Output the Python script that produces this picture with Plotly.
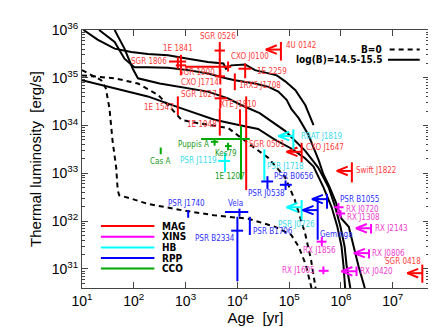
import numpy as np
import plotly.graph_objects as go

# cooling curves as log10(age / yr), log10(L / erg s^-1)
# log(B) = 14.5 - 15.5, four solid tracks
mag_a_age = [1.03, 1.30, 1.63, 1.95, 2.27, 2.66, 3.05, 3.43, 3.73, 3.78, 3.88, 4.15, 4.34, 4.60, 4.76, 4.93, 5.12, 5.31, 5.47]
mag_a_lum = [36.0, 35.80, 35.61, 35.54, 35.50, 35.47, 35.40, 35.33, 35.30, 35.19, 35.26, 35.28, 35.16, 35.09, 35.05, 34.92, 34.74, 34.43, 34.01]

mag_b_age = [1.33, 1.63, 1.82, 2.01, 2.27, 2.66, 3.05, 3.43, 3.78, 3.95, 4.34, 4.60, 4.79, 4.95, 5.04, 5.18,
             5.37, 5.57, 5.66, 5.78, 5.90, 6.01, 6.15, 6.24, 6.34, 6.46]
mag_b_lum = [36.0, 35.75, 35.40, 35.22, 35.22, 35.21, 35.16, 35.09, 34.99, 34.95, 34.88, 34.81, 34.71, 34.54, 34.35, 34.16,
             33.81, 33.27, 32.98, 32.71, 32.40, 32.05, 31.88, 31.47, 31.05, 30.60]

mag_c_age = [1.63, 1.82, 1.98, 2.08, 2.50, 2.92, 3.43, 3.82, 4.07, 4.43, 4.92, 5.31, 5.56, 5.76, 5.89, 5.99, 6.07, 6.11, 6.18]
mag_c_lum = [36.0, 35.61, 35.19, 34.99, 34.88, 34.81, 34.71, 34.57, 34.43, 34.26, 33.89, 33.47, 33.12, 32.71, 32.29, 31.88, 31.47, 31.05, 30.60]

mag_d_age = [1.0, 1.63, 2.27, 2.92, 3.56, 4.07, 4.40, 4.73, 5.04, 5.30, 5.47, 5.66, 5.82, 5.93, 6.01, 6.05, 6.08]
mag_d_lum = [34.95, 34.78, 34.61, 34.36, 34.12, 34.00, 33.93, 33.70, 33.52, 33.32, 33.14, 32.71, 32.29, 31.88, 31.47, 31.05, 30.60]

# B = 0, two dashed tracks
b0_e_age = [1.0, 1.37, 1.46, 1.53, 1.59, 1.66, 1.69, 1.72, 1.95, 2.27, 2.92, 3.56, 4.21, 4.73, 5.04, 5.18, 5.32, 5.43]
b0_e_lum = [35.16, 34.95, 34.78, 34.36, 33.68, 33.12, 32.64, 32.54, 32.47, 32.36, 32.23, 32.12, 32.05, 31.88, 31.71, 31.47, 31.09, 30.60]

b0_f_age = [1.0, 1.63, 2.08, 2.47, 2.72, 2.92, 3.24, 3.82, 4.27, 4.59, 4.92, 5.11, 5.31, 5.42, 5.51]
b0_f_lum = [35.05, 34.99, 34.88, 34.64, 34.36, 34.12, 34.05, 33.95, 33.58, 33.33, 32.92, 32.44, 31.73, 31.20, 30.60]

# sources (log10 values); upper limit on age -> arrow to the left
src_names = ['1E 1841', 'SGR 1806', 'SGR 0526', '4U 0142', 'CXO J0100', '1E 2259', 'SGR 1900', 'CXO J1714',
             '1RXS J1708', 'SGR 1627', '1E 1048', 'XTE J1810', 'SGR 0501', '1E 1547', 'CXO J1647', 'Swift J1822',
             'SGR 0418',
             'RX J0720', 'RX J1308', 'RX J2143', 'RX J1856', 'RX J0806', 'RX J1605', 'RX J0420',
             'RRAT J1819', 'PSR J1718', 'PSR J1119', 'PSR J0726',
             'PSR J1740', 'Vela', 'PSR B2334', 'PSR B1706', 'PSR J0538', 'PSR B0656', 'PSR B1055', 'Geminga',
             'Cas A', 'Puppis A', 'Kes79', '1E 1207']
src_class = ['MAG'] * 17 + ['XINS'] * 7 + ['HB'] * 4 + ['RPP'] * 8 + ['CCO'] * 4
src_age = [2.91, 2.85, 3.66, 4.84, 3.82, 4.15, 3.66, 3.67, 3.95, 3.67, 3.66, 4.05, 4.17, 2.85, 5.24, 6.21, 7.57,
           5.95, 5.99, 6.58, 5.63, 6.54, 5.66, 6.30,
           5.08, 4.52, 3.76, 5.24,
           3.05, 4.04, 4.00, 4.24, 4.58, 4.93, 5.73, 5.55,
           2.52, 3.56, 3.82, 4.07]
src_age_lo = [2.81, 2.68, 3.56, 4.84, 3.76, 4.02, 2.99, 3.57, 3.95, 3.56, 3.66, 4.05, 4.17, 2.85, 5.24, 6.21, 7.57,
              5.86, 5.90, 6.58, 5.53, 6.54, 5.57, 6.30,
              5.08, 4.52, 3.63, 5.24,
              3.05, 3.76, 3.88, 4.24, 4.46, 4.82, 5.73, 5.55,
              2.52, 3.49, 3.76, 3.30]
src_age_hi = [3.01, 3.01, 3.76, 4.84, 3.88, 4.27, 3.82, 3.76, 3.95, 3.80, 3.66, 4.05, 4.17, 2.85, 5.24, 6.21, 7.57,
              6.05, 6.08, 6.58, 5.72, 6.54, 5.76, 6.30,
              5.08, 4.52, 3.86, 5.24,
              3.05, 4.21, 4.11, 4.24, 4.69, 5.05, 5.73, 5.55,
              2.52, 3.63, 3.89, 4.24]
src_lum = [35.26, 35.34, 35.57, 35.59, 35.23, 35.19, 35.23, 35.03, 34.88, 34.57, 34.03, 34.16, 33.62, 34.41, 33.45, 33.05, 30.91,
           32.29, 32.16, 31.85, 31.57, 31.33, 30.96, 30.95,
           33.78, 33.18, 33.26, 32.29,
           32.15, 32.19, 31.80, 31.92, 32.83, 32.76, 32.46, 32.23,
           33.47, 33.66, 33.57, 33.72]
src_lum_lo = [35.05, 35.19, 35.36, 35.36, 35.13, 34.99, 35.05, 34.86, 34.74, 34.36, 33.79, 33.99, 32.65, 34.22, 33.23, 32.81, 30.71,
              32.19, 32.07, 31.74, 31.47, 31.22, 30.89, 30.85,
              33.50, 32.85, 33.02, 32.03,
              32.07, 32.09, 30.74, 31.71, 32.67, 32.65, 32.26, 31.61,
              33.40, 33.58, 33.48, 32.87]
src_lum_hi = [35.48, 35.44, 35.75, 35.75, 35.34, 35.30, 35.40, 35.19, 35.09, 34.78, 34.36, 34.34, 34.61, 34.61, 33.64, 33.23, 31.09,
              32.38, 32.23, 31.94, 31.67, 31.41, 31.05, 31.05,
              33.92, 33.50, 33.43, 32.44,
              32.23, 32.26, 32.09, 32.09, 32.94, 32.85, 32.57, 32.50,
              33.54, 33.74, 33.64, 33.99]
src_upper = [0, 0, 0, 1, 0, 0, 0, 0, 0, 0, 0, 0, 0, 0, 1, 1, 1,
             0, 0, 1, 0, 1, 0, 1,
             1, 0, 0, 1,
             0, 0, 0, 0, 0, 0, 1, 1,
             0, 0, 0, 0]

classes = ['MAG', 'XINS', 'HB', 'RPP', 'CCO']
line_colors = {'MAG': '#ff0000', 'XINS': '#ff00ff', 'HB': '#00ffff', 'RPP': '#0000ff', 'CCO': '#00a800'}
text_colors = {'MAG': '#ff3b3b', 'XINS': '#f040d0', 'HB': '#3cdcec', 'RPP': '#3030ff', 'CCO': '#229a22'}

# label placement: anchor, x shift, y shift (px)
label_pos = {
    '1E 1841': ('center', -3, 17), 'SGR 1806': ('right', -10, 0), 'SGR 0526': ('center', -2, 14),
    '4U 0142': ('left', 4, 4), 'CXO J0100': ('left', 2, 10), '1E 2259': ('left', 11, -3),
    'SGR 1900': ('right', -4, -6), 'CXO J1714': ('right', 0, -6), '1RXS J1708': ('left', 3, -2),
    'SGR 1627': ('right', -2, 4), '1E 1048': ('right', -2, 0), 'XTE J1810': ('center', -1, 13),
    'SGR 0501': ('left', 2, -1), '1E 1547': ('right', -3, -2), 'CXO J1647': ('left', 3, 4),
    'Swift J1822': ('left', 3, 0), 'SGR 0418': ('right', 0, 12),
    'RX J0720': ('left', 7, -2), 'RX J1308': ('left', 6, -4), 'RX J2143': ('left', 3, 0),
    'RX J1856': ('center', -2, -9), 'RX J0806': ('left', 2, 0), 'RX J1605': ('right', -7, 0),
    'RX J0420': ('left', 2, 0),
    'RRAT J1819': ('left', 7, 0), 'PSR J1718': ('left', 2, -2), 'PSR J1119': ('right', -7, 0),
    'PSR J0726': ('center', -5, -17),
    'PSR J1740': ('center', -2, 10), 'Vela': ('center', -4, 9), 'PSR B2334': ('right', -1, -8),
    'PSR B1706': ('left', 2, -7), 'PSR J0538': ('center', -1, -12), 'PSR B0656': ('center', 8, 8),
    'PSR B1055': ('left', 12, 0), 'Geminga': ('left', 1, -24),
    'Cas A': ('center', -1, -11), 'Puppis A': ('right', -5, -3), 'Kes79': ('center', -2, -7),
    '1E 1207': ('center', -11, -38),
}

ARROW_LEN = 0.29   # dex
HEAD_DX = 0.21
HEAD_DY = 0.09
LABEL_FONT = 'Liberation Sans Narrow, DejaVu Sans Condensed, Liberation Sans, Arial'

fig = go.Figure()

# cooling curves
for age, lum in [(mag_a_age, mag_a_lum), (mag_b_age, mag_b_lum), (mag_c_age, mag_c_lum), (mag_d_age, mag_d_lum)]:
    fig.add_trace(go.Scatter(x=np.power(10.0, age), y=np.power(10.0, lum), mode='lines',
                             line=dict(color='black', width=2), showlegend=False, hoverinfo='skip'))
for age, lum in [(b0_e_age, b0_e_lum), (b0_f_age, b0_f_lum)]:
    fig.add_trace(go.Scatter(x=np.power(10.0, age), y=np.power(10.0, lum), mode='lines',
                             line=dict(color='black', width=2, dash='5px,4px'), showlegend=False, hoverinfo='skip'))

# sources: crosses, or a bar with a left arrow for age upper limits
for cls in classes:
    xs, ys = [], []
    for i, c in enumerate(src_class):
        if c != cls:
            continue
        a, l = src_age[i], src_lum[i]
        xs += [a, a, None]
        ys += [src_lum_lo[i], src_lum_hi[i], None]
        if src_upper[i]:
            tip = a - ARROW_LEN
            xs += [a, tip, None, tip + HEAD_DX, tip, tip + HEAD_DX, None]
            ys += [l, l, None, l + HEAD_DY, l, l - HEAD_DY, None]
        else:
            xs += [src_age_lo[i], src_age_hi[i], None]
            ys += [l, l, None]
    xs = [None if v is None else 10.0 ** v for v in xs]
    ys = [None if v is None else 10.0 ** v for v in ys]
    fig.add_trace(go.Scatter(x=xs, y=ys, mode='lines', line=dict(color=line_colors[cls], width=2),
                             showlegend=False, hoverinfo='skip'))

for i, name in enumerate(src_names):
    anchor, dx, dy = label_pos[name]
    fig.add_annotation(x=src_age[i], y=src_lum[i], xref='x', yref='y', text=name, showarrow=False,
                       xanchor=anchor, yanchor='middle', xshift=dx, yshift=dy, borderpad=0,
                       font=dict(family=LABEL_FONT, size=8, color=text_colors[src_class[i]]))

# class key, lower left
key_y = [0.240, 0.199, 0.157, 0.116, 0.0755]
for cls, yk in zip(classes, key_y):
    fig.add_shape(type='line', xref='paper', yref='paper', x0=0.0545, x1=0.2086, y0=yk, y1=yk,
                  line=dict(color=line_colors[cls], width=2))
    fig.add_annotation(xref='paper', yref='paper', x=0.2276, y=yk, text='<b>%s</b>' % cls, showarrow=False,
                       xanchor='left', yanchor='middle', borderpad=0,
                       font=dict(family=LABEL_FONT, size=10, color='black'))

# model key, upper right
fig.add_shape(type='line', xref='paper', yref='paper', x0=0.8866, x1=0.9732, y0=0.9245, y1=0.9245,
              line=dict(color='black', width=2, dash='5px,4px'))
fig.add_shape(type='line', xref='paper', yref='paper', x0=0.8817, x1=0.9732, y0=0.885, y1=0.885,
              line=dict(color='black', width=2))
fig.add_annotation(xref='paper', yref='paper', x=0.867, y=0.9245, text='<b>B=0</b>', showarrow=False,
                   xanchor='right', yanchor='middle', borderpad=0,
                   font=dict(family=LABEL_FONT, size=10, color='black'))
fig.add_annotation(xref='paper', yref='paper', x=0.867, y=0.885, text='<b>log(B)=14.5-15.5</b>', showarrow=False,
                   xanchor='right', yanchor='middle', borderpad=0,
                   font=dict(family=LABEL_FONT, size=10, color='black'))

x_tick_exp = [1, 2, 3, 4, 5, 6, 7]
y_tick_exp = [31, 32, 33, 34, 35, 36]
y_minor = [k * 10.0 ** n for n in range(30, 36) for k in range(2, 10)]

fig.update_xaxes(type='log', range=[1, 7.699], tickmode='array',
                 tickvals=[10.0 ** e for e in x_tick_exp],
                 ticktext=['10<sup>%d</sup>' % e for e in x_tick_exp],
                 ticks='inside', ticklen=6, tickcolor='#444', mirror='ticks', showline=True,
                 linecolor='#444', linewidth=1, showgrid=False, zeroline=False,
                 tickfont=dict(family='Liberation Sans, Arial', size=14, color='black'),
                 title=dict(text='Age  [yr]', standoff=4,
                            font=dict(family='Liberation Sans, Arial', size=15, color='black')))
fig.update_yaxes(type='log', range=[30.6, 36], tickmode='array',
                 tickvals=[10.0 ** e for e in y_tick_exp],
                 ticktext=['10<sup>%d</sup>' % e for e in y_tick_exp],
                 ticks='inside', ticklen=6, tickcolor='#444', mirror='ticks', showline=True,
                 linecolor='#444', linewidth=1, showgrid=False, zeroline=False,
                 minor=dict(tickmode='array', tickvals=y_minor, ticks='inside', ticklen=3, tickcolor='#444'),
                 tickfont=dict(family='Liberation Sans, Arial', size=14, color='black'),
                 title=dict(text='Thermal luminosity  [erg/s]', standoff=6,
                            font=dict(family='Liberation Sans, Arial', size=15, color='black')))

fig.update_layout(width=436, height=327, margin=dict(l=74, r=15, t=21, b=45),
                  paper_bgcolor='white', plot_bgcolor='white', showlegend=False)

fig.write_html('out.html')
